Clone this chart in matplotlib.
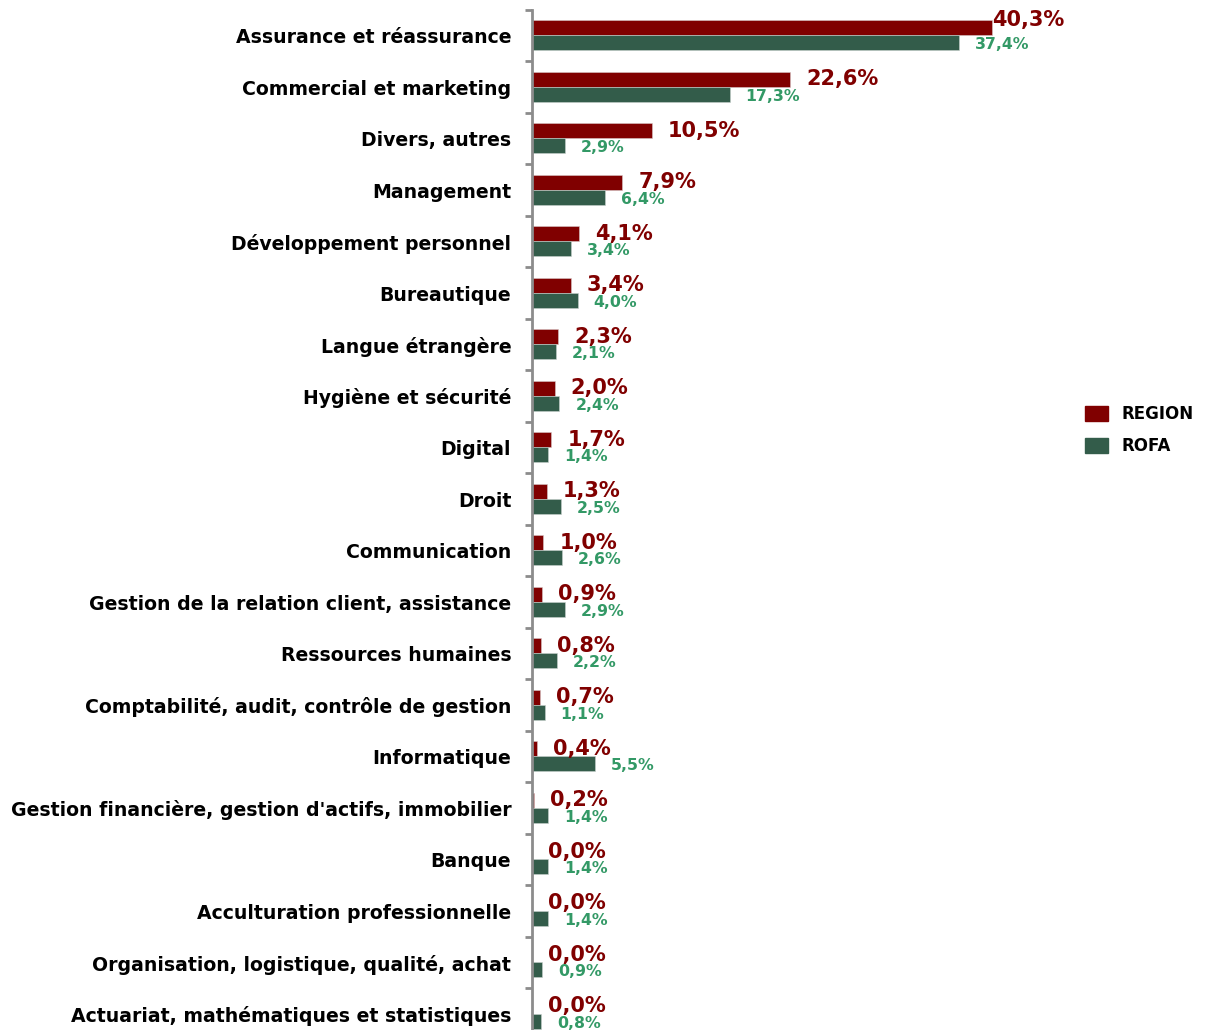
import numpy as np
import matplotlib
matplotlib.use("Agg")
import matplotlib.pyplot as plt
from matplotlib.patches import Patch

categories = ["Assurance et réassurance", "Commercial et marketing", "Divers, autres",
              "Management", "Développement personnel", "Bureautique", "Langue étrangère",
              "Hygiène et sécurité", "Digital", "Droit", "Communication",
              "Gestion de la relation client, assistance", "Ressources humaines",
              "Comptabilité, audit, contrôle de gestion", "Informatique",
              "Gestion financière, gestion d'actifs, immobilier", "Banque",
              "Acculturation professionnelle", "Organisation, logistique, qualité, achat",
              "Actuariat, mathématiques et statistiques"]
region = [40.3, 22.6, 10.5, 7.9, 4.1, 3.4, 2.3, 2.0, 1.7, 1.3, 1.0, 0.9, 0.8, 0.7, 0.4,
          0.2, 0.0, 0.0, 0.0, 0.0]
rofa = [37.4, 17.3, 2.9, 6.4, 3.4, 4.0, 2.1, 2.4, 1.4, 2.5, 2.6, 2.9, 2.2, 1.1, 5.5,
        1.4, 1.4, 1.4, 0.9, 0.8]
series_names = ["REGION", "ROFA"]

RED = "#800000"
GREEN = "#335c4a"
GREEN_TXT = "#339966"

W, H = 1209, 1030
fig = plt.figure(figsize=(W / 100, H / 100), dpi=100)
ax = fig.add_axes([532 / W, -10 / H, 537 / W, 1030 / H])

y = np.arange(len(categories))
bh = 0.29
ax.barh(y - 0.155, region, height=bh, color=RED, edgecolor="#d8c8c8", linewidth=0.4)
ax.barh(y + 0.135, rofa, height=bh, color=GREEN, edgecolor="#c8d0cc", linewidth=0.4)

ax.set_xlim(0, 47)
ax.set_ylim(len(categories) - 0.5, -0.5)

off = 1.4
xmax_lab = 40.3
for i, (r, g) in enumerate(zip(region, rofa)):
    # label pushed back inside the plot area sits a bit higher, as in the source
    if r + off > xmax_lab:
        xr, yr = xmax_lab, i - 0.30
    else:
        xr, yr = r + off, i - 0.16
    lab = ("%.1f%%" % r).replace(".", ",")
    ax.text(xr, yr, lab, color=RED, fontsize=15, fontweight="bold",
            va="center", ha="left")
    lab = ("%.1f%%" % g).replace(".", ",")
    ax.text(g + off, i + 0.17, lab, color=GREEN_TXT, fontsize=11.3, fontweight="bold",
            va="center", ha="left")

for s in ["top", "right", "bottom"]:
    ax.spines[s].set_visible(False)
ax.spines["left"].set_color("#8c8c8c")
ax.spines["left"].set_linewidth(2)
ax.set_xticks([])
ax.set_yticks(y)
ax.set_yticklabels(categories, fontsize=13.6, fontweight="bold", va="center_baseline")
ax.tick_params(axis="y", which="major", length=0, pad=15)
ax.set_yticks(np.arange(len(categories) + 1) - 0.5, minor=True)
ax.tick_params(axis="y", which="minor", length=5, width=2, color="#8c8c8c")

handles = [Patch(color=RED), Patch(color=GREEN)]
fig.legend(handles, series_names, loc="center left",
           bbox_to_anchor=(1070 / W, 1 - 430 / H), frameon=False,
           prop={"weight": "bold", "size": 12}, handlelength=1.4, handleheight=1.0,
           labelspacing=0.85, handletextpad=0.8)

fig.savefig("out.png", dpi=100)
